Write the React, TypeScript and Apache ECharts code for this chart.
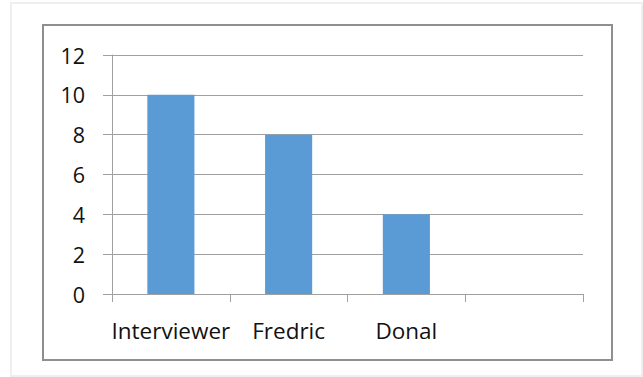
import React, { useEffect, useRef } from "react";
import * as echarts from "echarts";

// Interview counts per person; the last category slot is left empty.
const categories: string[] = ["Interviewer", "Fredric", "Donal", ""];
const counts: (number | null)[] = [10, 8, 4, null];
const yTicks = { min: 0, max: 12, interval: 2 };

const FONT = "'Open Sans', 'Noto Sans', sans-serif";
const AXIS_GRAY = "#a0a0a0";
const BAR_BLUE = "#5b9bd5";

export default function App() {
  const ref = useRef<HTMLDivElement>(null);

  useEffect(() => {
    if (!ref.current) return;
    const chart = echarts.init(ref.current, undefined, { renderer: "svg" });
    chart.setOption({
      animation: false,
      backgroundColor: "#ffffff",
      graphic: [
        {
          type: "rect",
          shape: { x: 11, y: 3, width: 631, height: 373 },
          style: { fill: "none", stroke: "#efefef", lineWidth: 2 },
          silent: true,
        },
        {
          type: "rect",
          shape: { x: 43, y: 25, width: 569, height: 335 },
          style: { fill: "none", stroke: "#8f8f8f", lineWidth: 2 },
          silent: true,
        },
      ],
      grid: { left: 112, right: 60, top: 55, bottom: 83, containLabel: false },
      xAxis: {
        type: "category",
        data: categories,
        boundaryGap: true,
        axisLine: { show: true, lineStyle: { color: AXIS_GRAY, width: 1 } },
        axisTick: { show: true, length: 8, alignWithLabel: false, lineStyle: { color: AXIS_GRAY } },
        axisLabel: { interval: 0, color: "#111", fontSize: 22.5, fontFamily: FONT, margin: 25 },
        splitLine: { show: false },
      },
      yAxis: {
        type: "value",
        min: yTicks.min,
        max: yTicks.max,
        interval: yTicks.interval,
        axisLine: { show: true, lineStyle: { color: AXIS_GRAY, width: 1 } },
        axisTick: { show: true, length: 9, lineStyle: { color: AXIS_GRAY } },
        axisLabel: { color: "#111", fontSize: 21.5, fontFamily: FONT, margin: 27 },
        splitLine: { show: true, lineStyle: { color: AXIS_GRAY, width: 1 } },
      },
      series: [
        {
          type: "bar",
          data: counts,
          barWidth: "40%",
          itemStyle: { color: BAR_BLUE },
        },
      ],
    });
    return () => chart.dispose();
  }, []);

  return (
    <div
      ref={ref}
      style={{ position: "fixed", left: 0, top: 0, width: 643, height: 377 }}
    />
  );
}
